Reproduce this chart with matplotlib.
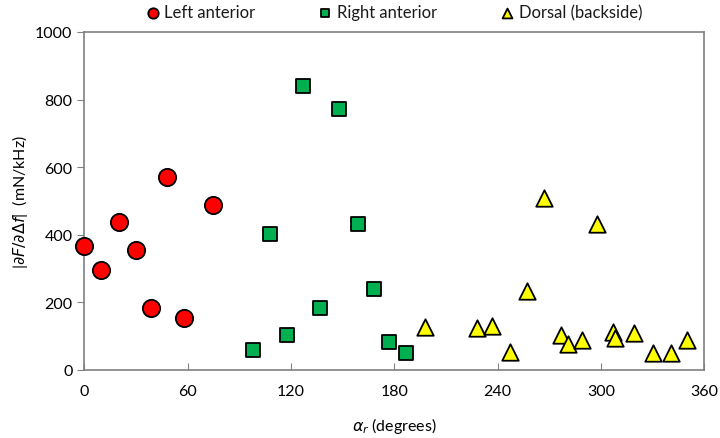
import matplotlib
matplotlib.use("Agg")
import matplotlib.pyplot as plt

# ── Data ──────────────────────────────────────────────────────────────────────
left_x = [0, 10, 20, 30, 39, 48, 58, 75]
left_y = [366, 297, 438, 356, 182, 570, 153, 489]

right_x = [98, 108, 118, 127, 137, 148, 159, 168, 177, 187]
right_y = [59, 402, 102, 840, 183, 773, 432, 240, 82, 51]

dorsal_x = [198, 228, 237, 247, 257, 267, 277, 281, 289, 298, 307, 308, 319, 330, 341, 350]
dorsal_y = [128, 125, 130, 53, 235, 508, 102, 76, 88, 433, 112, 94, 110, 49, 49, 88]

x_ticks = [0, 60, 120, 180, 240, 300, 360]
y_ticks = [0, 200, 400, 600, 800, 1000]

plt.rcParams["font.family"] = ["Lato", "DejaVu Sans"]
plt.rcParams["mathtext.fontset"] = "dejavusans"
plt.rcParams["text.color"] = "#1a1a1a"

fig = plt.figure(figsize=(7.2, 4.39), dpi=100)
ax = fig.add_axes([0.117, 0.155, 0.861, 0.77])

edge = "black"
ax.scatter(left_x, left_y, s=155, marker="o", facecolor="#FF0000",
           edgecolor=edge, linewidth=1.3, label="Left anterior", zorder=3, clip_on=False)
ax.scatter(right_x, right_y, s=110, marker="s", facecolor="#00B050",
           edgecolor=edge, linewidth=1.3, label="Right anterior", zorder=3)
ax.scatter(dorsal_x, dorsal_y, s=140, marker="^", facecolor="#FFFF00",
           edgecolor=edge, linewidth=1.3, label="Dorsal (backside)", zorder=3)

ax.set_xlim(0, 360)
ax.set_ylim(0, 1000)
ax.set_xticks(x_ticks)
ax.set_yticks(y_ticks)
ax.tick_params(axis="x", direction="in", length=5, color="#808080", labelsize=11.5, pad=10)
ax.tick_params(axis="y", direction="out", length=5, color="#808080", labelsize=11.5)
for sp in ax.spines.values():
    sp.set_color("#808080")
    sp.set_linewidth(1.2)

ax.set_xlabel(r"$\alpha_r$ (degrees)", fontsize=11.5, labelpad=12)
ax.set_ylabel(r"|$\partial F/\partial \Delta f$|  (mN/kHz)", fontsize=11.5)

ax.legend(loc="lower center", bbox_to_anchor=(0.5, 1.005), ncol=3, frameon=False,
          fontsize=12, markerscale=0.6, handlelength=0.8, handletextpad=0.3,
          columnspacing=3.8, borderaxespad=0.2)

fig.savefig("out.png", dpi=100)
